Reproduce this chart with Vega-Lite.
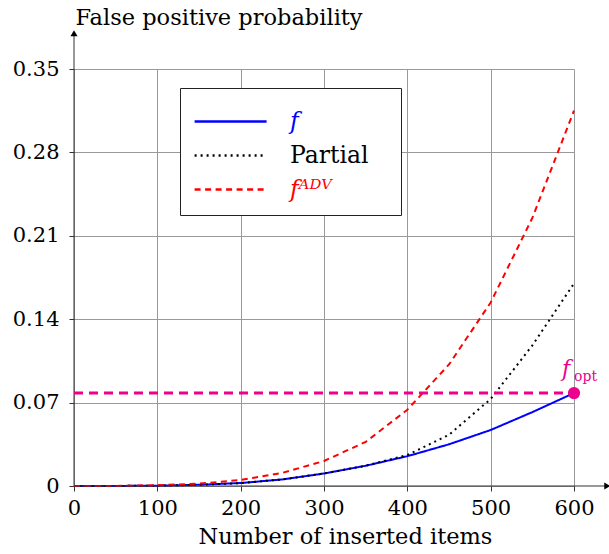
{
  "$schema": "https://vega.github.io/schema/vega-lite/v6.json",
  "width": 500,
  "height": 417,
  "autosize": {"type": "none"},
  "padding": {"left": 74, "top": 69, "right": 35, "bottom": 68},
  "config": {
    "font": "DejaVu Serif",
    "view": {"stroke": null},
    "axis": {"labelFont": "DejaVu Serif", "titleFont": "DejaVu Serif", "labelFontSize": 21, "titleFontSize": 22.5, "titleFontWeight": "normal", "labelColor": "black", "titleColor": "black", "domainColor": "#333", "tickColor": "#333", "gridColor": "#999", "gridOpacity": 1, "gridWidth": 1, "labelFlush": false}
  },
  "datasets": {
    "curves": [
      {"series": "f", "x": 0, "y": 0},
      {"series": "f", "x": 50, "y": 0.00003},
      {"series": "f", "x": 100, "y": 0.0003},
      {"series": "f", "x": 150, "y": 0.001},
      {"series": "f", "x": 200, "y": 0.0025},
      {"series": "f", "x": 250, "y": 0.0055},
      {"series": "f", "x": 300, "y": 0.0105},
      {"series": "f", "x": 350, "y": 0.017},
      {"series": "f", "x": 400, "y": 0.025},
      {"series": "f", "x": 450, "y": 0.035},
      {"series": "f", "x": 500, "y": 0.047},
      {"series": "f", "x": 550, "y": 0.062},
      {"series": "f", "x": 600, "y": 0.078},
      {"series": "Partial", "x": 0, "y": 0},
      {"series": "Partial", "x": 50, "y": 0.00003},
      {"series": "Partial", "x": 100, "y": 0.0003},
      {"series": "Partial", "x": 150, "y": 0.001},
      {"series": "Partial", "x": 200, "y": 0.0025},
      {"series": "Partial", "x": 250, "y": 0.0055},
      {"series": "Partial", "x": 300, "y": 0.0105},
      {"series": "Partial", "x": 350, "y": 0.017},
      {"series": "Partial", "x": 400, "y": 0.026},
      {"series": "Partial", "x": 450, "y": 0.043},
      {"series": "Partial", "x": 500, "y": 0.073},
      {"series": "Partial", "x": 550, "y": 0.118},
      {"series": "Partial", "x": 600, "y": 0.17},
      {"series": "fᴬᴰⱽ", "x": 0, "y": 0},
      {"series": "fᴬᴰⱽ", "x": 50, "y": 0.0001},
      {"series": "fᴬᴰⱽ", "x": 100, "y": 0.0006},
      {"series": "fᴬᴰⱽ", "x": 150, "y": 0.002},
      {"series": "fᴬᴰⱽ", "x": 200, "y": 0.005},
      {"series": "fᴬᴰⱽ", "x": 250, "y": 0.011},
      {"series": "fᴬᴰⱽ", "x": 300, "y": 0.021},
      {"series": "fᴬᴰⱽ", "x": 350, "y": 0.037},
      {"series": "fᴬᴰⱽ", "x": 400, "y": 0.064},
      {"series": "fᴬᴰⱽ", "x": 450, "y": 0.102},
      {"series": "fᴬᴰⱽ", "x": 500, "y": 0.154},
      {"series": "fᴬᴰⱽ", "x": 550, "y": 0.225},
      {"series": "fᴬᴰⱽ", "x": 600, "y": 0.315}
    ],
    "fopt": [
      {"x": 0, "y": 0.078},
      {"x": 600, "y": 0.078}
    ]
  },
  "encoding": {
    "x": {
      "field": "x", "type": "quantitative",
      "scale": {"domain": [0, 600], "nice": false, "zero": false},
      "title": "Number of inserted items",
      "axis": {"values": [0, 100, 200, 300, 400, 500, 600], "grid": true, "tickSize": 5, "labelPadding": 6, "titleX": 271, "titleY": 57, "titleBaseline": "alphabetic", "titleAnchor": "start", "titleAlign": "center", "domain": false}
    },
    "y": {
      "field": "y", "type": "quantitative",
      "scale": {"domain": [0, 0.35], "nice": false, "zero": false},
      "title": "False positive probability",
      "axis": {"values": [0, 0.07, 0.14, 0.21, 0.28, 0.35], "format": ".2~f", "grid": true, "tickSize": 5, "labelPadding": 10, "titleAngle": 0, "titleX": 1, "titleY": -45, "titleAlign": "left", "titleBaseline": "alphabetic", "domain": false}
    }
  },
  "layer": [
    {
      "data": {"name": "curves"},
      "mark": {"type": "line", "strokeWidth": 2},
      "encoding": {
        "color": {
          "field": "series", "type": "nominal",
          "scale": {"domain": ["f", "Partial", "fᴬᴰⱽ"], "range": ["#0000FF", "#000000", "#FF0000"]},
          "legend": {
            "title": ".", "titleOrient": "right", "titleFontSize": 2, "titleColor": "transparent", "titlePadding": 18,
            "orient": "none", "legendX": 106, "legendY": 19,
            "symbolType": "M-1.05,0H2.95", "symbolSize": 1296, "symbolStrokeWidth": 2.5,
            "labelFontSize": 23.5, "labelFont": "DejaVu Serif", "labelOffset": 57,
            "labelColor": {"expr": "datum.label === 'Partial' ? 'black' : (datum.label === 'f' ? '#0000FF' : '#FF0000')"},
            "labelFontStyle": {"expr": "datum.label === 'Partial' ? 'normal' : 'italic'"},
            "fillColor": "white", "strokeColor": "#222", "padding": 14, "cornerRadius": 0, "rowPadding": 3
          }
        },
        "strokeDash": {
          "field": "series", "type": "nominal",
          "scale": {"domain": ["f", "Partial", "fᴬᴰⱽ"], "range": [[1, 0], [2, 4], [6, 4.5]]},
          "legend": {
            "title": ".", "titleOrient": "right", "titleFontSize": 2, "titleColor": "transparent", "titlePadding": 18,
            "orient": "none", "legendX": 106, "legendY": 19,
            "symbolType": "M-1.05,0H2.95", "symbolSize": 1296, "symbolStrokeWidth": 2.5,
            "labelFontSize": 23.5, "labelFont": "DejaVu Serif", "labelOffset": 57,
            "labelColor": {"expr": "datum.label === 'Partial' ? 'black' : (datum.label === 'f' ? '#0000FF' : '#FF0000')"},
            "labelFontStyle": {"expr": "datum.label === 'Partial' ? 'normal' : 'italic'"},
            "fillColor": "white", "strokeColor": "#222", "padding": 14, "cornerRadius": 0, "rowPadding": 3
          }
        }
      }
    },
    {
      "data": {"name": "fopt"},
      "transform": [{"filter": "datum.x == 600"}],
      "mark": {"type": "rule", "color": "#333", "strokeWidth": 1, "clip": false},
      "encoding": {"x": {"datum": 0, "type": "quantitative", "title": "Number of inserted items"}, "x2": {"datum": 640}, "y": {"datum": 0, "type": "quantitative", "title": "False positive probability"}}
    },
    {
      "data": {"name": "fopt"},
      "transform": [{"filter": "datum.x == 600"}],
      "mark": {"type": "rule", "color": "#333", "strokeWidth": 1, "clip": false},
      "encoding": {"x": {"datum": 0, "type": "quantitative", "title": "Number of inserted items"}, "y": {"datum": 0, "type": "quantitative", "title": "False positive probability"}, "y2": {"datum": 0.38}}
    },
    {
      "data": {"name": "fopt"},
      "transform": [{"filter": "datum.x == 600"}],
      "mark": {"type": "point", "shape": "triangle-right", "filled": true, "color": "black", "size": 50, "opacity": 1, "clip": false},
      "encoding": {"x": {"datum": 640, "type": "quantitative", "title": "Number of inserted items"}, "y": {"datum": 0, "type": "quantitative", "title": "False positive probability"}}
    },
    {
      "data": {"name": "fopt"},
      "transform": [{"filter": "datum.x == 600"}],
      "mark": {"type": "point", "shape": "triangle-up", "filled": true, "color": "black", "size": 50, "opacity": 1, "clip": false},
      "encoding": {"x": {"datum": 0, "type": "quantitative", "title": "Number of inserted items"}, "y": {"datum": 0.38, "type": "quantitative", "title": "False positive probability"}}
    },
    {
      "data": {"name": "fopt"},
      "mark": {"type": "line", "color": "#EC008C", "strokeWidth": 3, "strokeDash": [9, 6]},
      "encoding": {}
    },
    {
      "data": {"name": "fopt"},
      "transform": [{"filter": "datum.x == 600"}],
      "mark": {"type": "point", "filled": true, "color": "#EC008C", "size": 150, "opacity": 1},
      "encoding": {}
    },
    {
      "data": {"name": "fopt"},
      "transform": [{"filter": "datum.x == 600"}],
      "mark": {"type": "text", "text": "f", "color": "#EC008C", "font": "DejaVu Serif", "fontStyle": "italic", "fontSize": 22, "dx": -8, "dy": -17, "baseline": "alphabetic", "align": "center"},
      "encoding": {}
    },
    {
      "data": {"name": "fopt"},
      "transform": [{"filter": "datum.x == 600"}],
      "mark": {"type": "text", "text": "opt", "color": "#EC008C", "font": "DejaVu Serif", "fontSize": 14, "dx": 0, "dy": -12, "baseline": "alphabetic", "align": "left"},
      "encoding": {}
    }
  ]
}
